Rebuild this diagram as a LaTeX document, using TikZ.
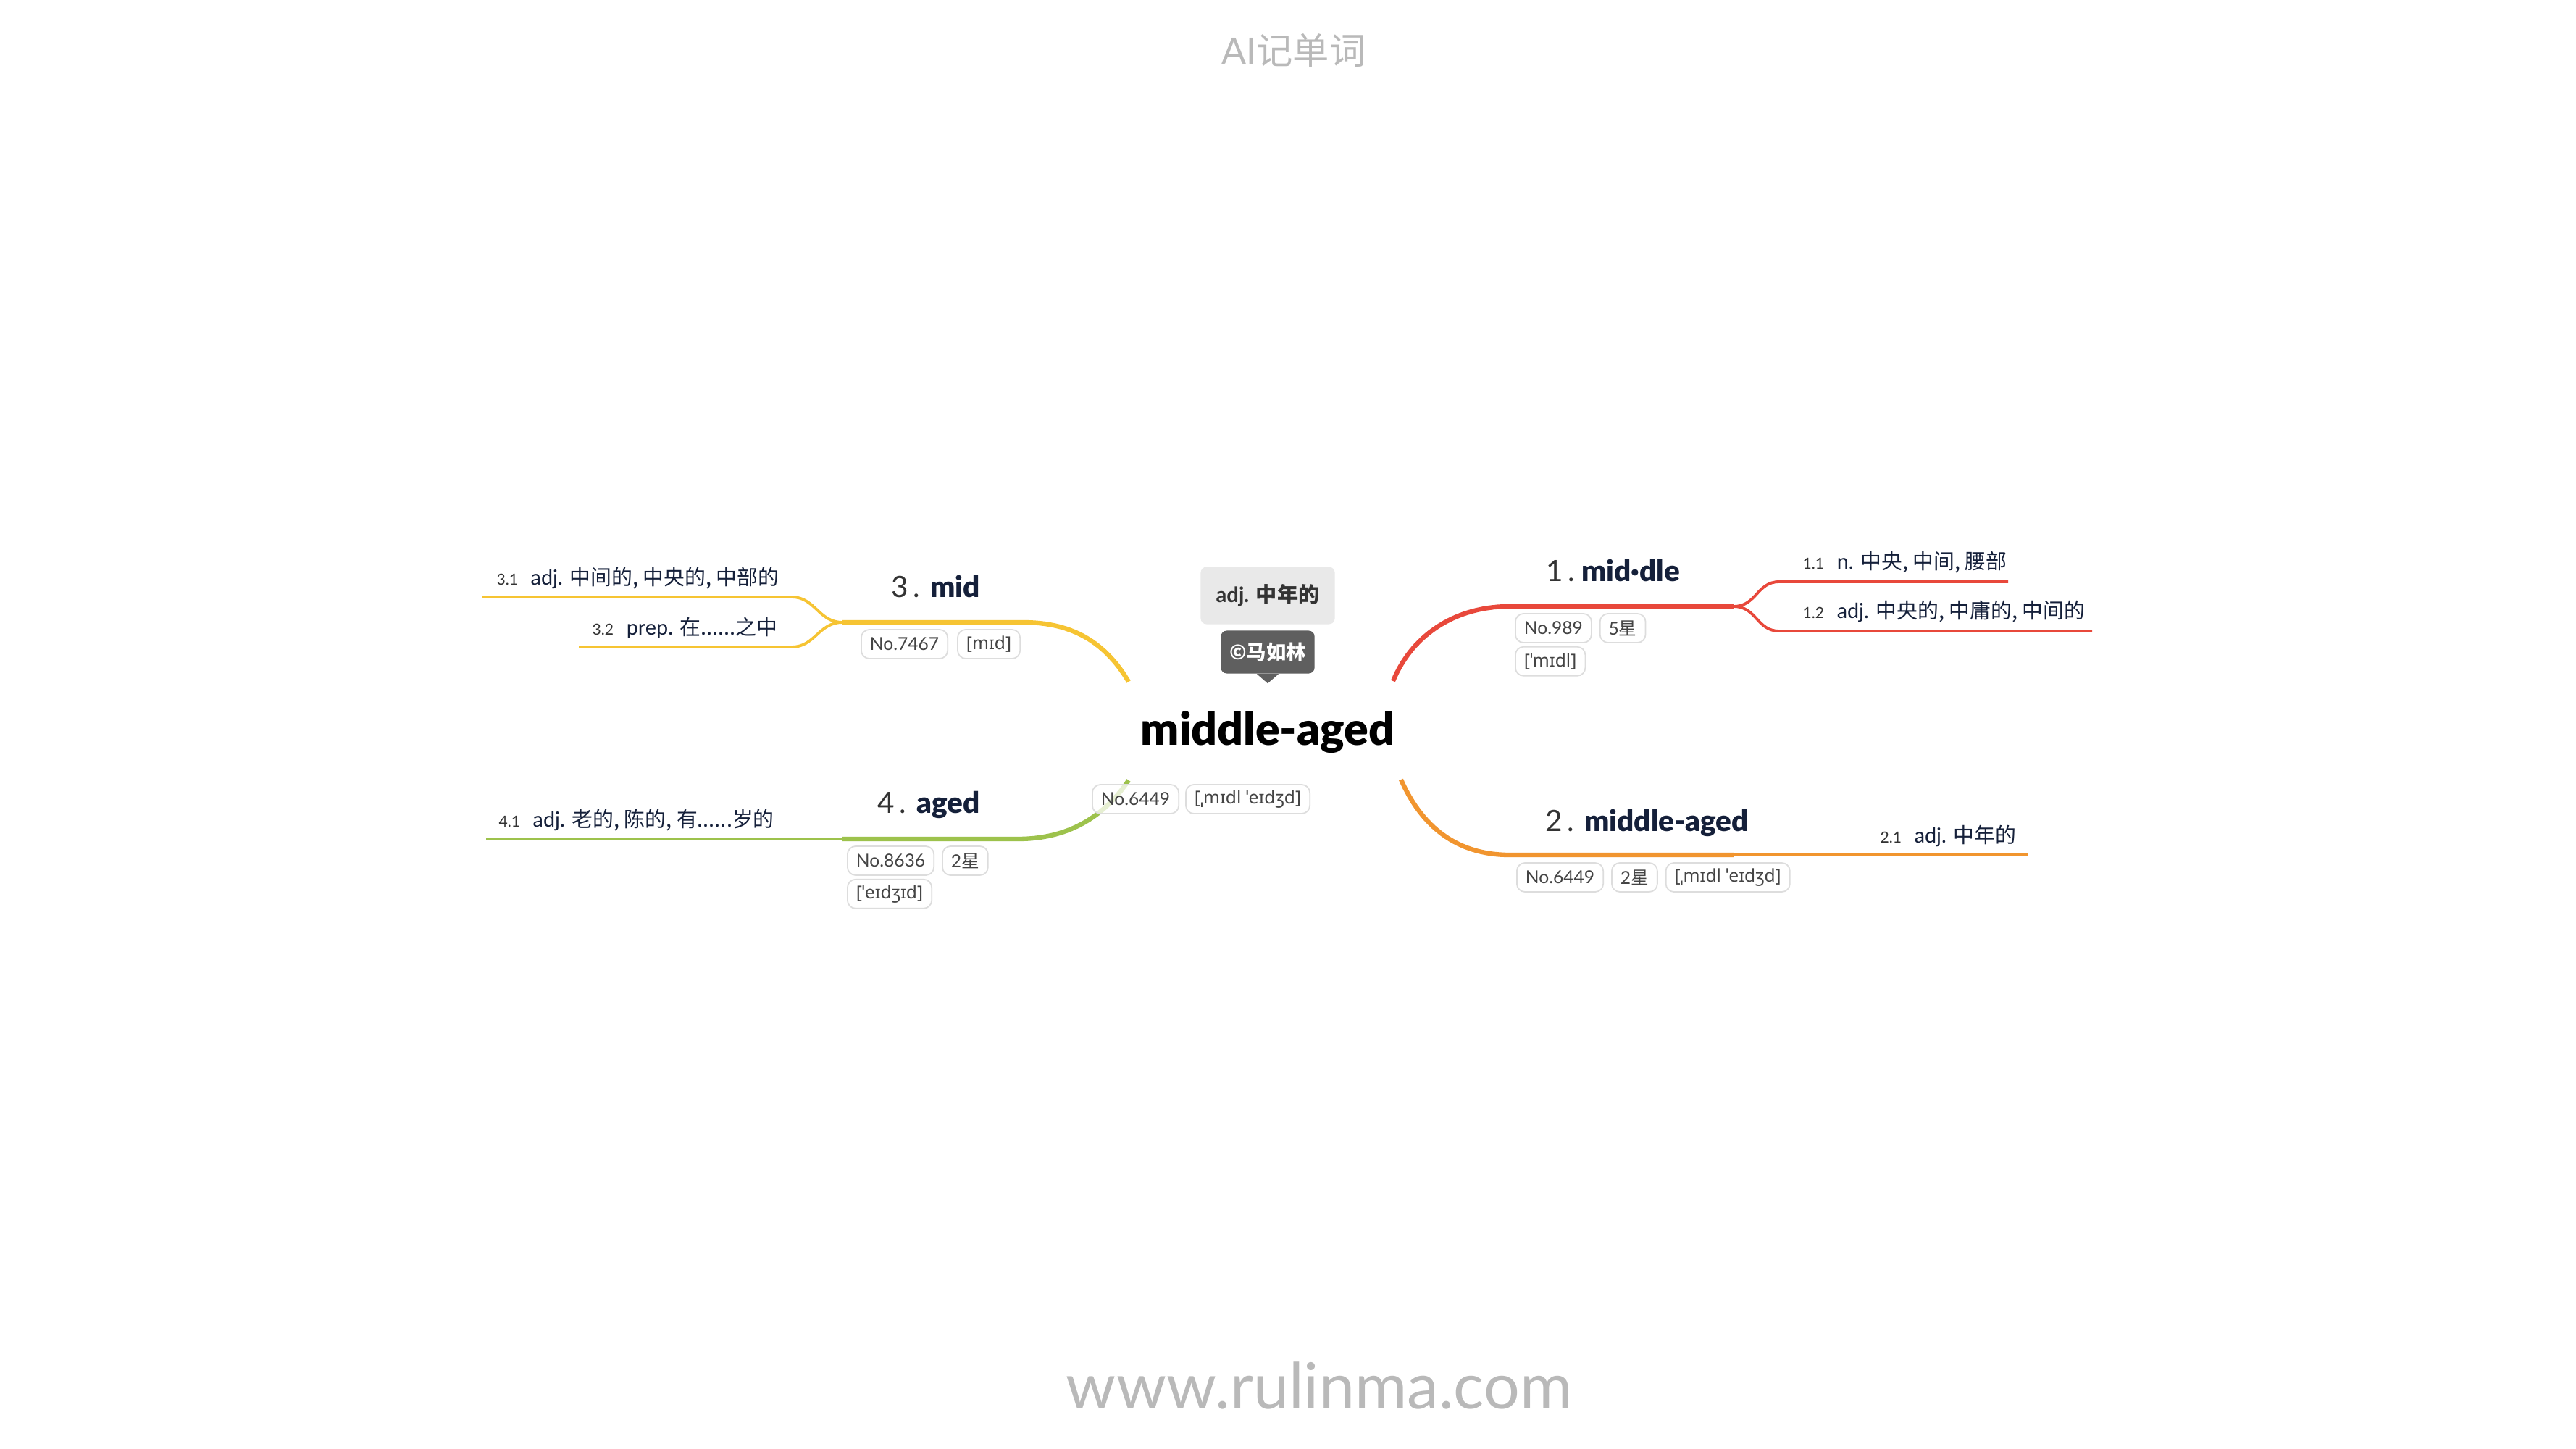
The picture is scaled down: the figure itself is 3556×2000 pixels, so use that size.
\documentclass[tikz,border=0pt]{standalone}
\usepackage{fontspec}
\setmainfont{Lato}
\newfontfamily\heavy{Lato Black}
\newfontfamily\cjk{Noto Sans CJK SC}
\newfontfamily\ipa{Noto Sans}
\usetikzlibrary{positioning}

\definecolor{redbr}{HTML}{E8483B}
\definecolor{orangebr}{HTML}{F1952F}
\definecolor{yellowbr}{HTML}{F6C433}
\definecolor{greenbr}{HTML}{9DC24C}
\definecolor{navy}{HTML}{15203A}
\definecolor{numgray}{HTML}{333333}
\definecolor{tagline}{HTML}{DDDDDD}
\definecolor{tagtext}{HTML}{444444}
\definecolor{boxgray}{HTML}{E9E9E9}
\definecolor{callgray}{HTML}{5F5F5F}
\definecolor{faint}{HTML}{B9B9B9}

\newcommand{\zh}[1]{{\cjk #1}}
\newcommand{\sensenum}[1]{{\color{numgray}\fontsize{6}{7}\selectfont #1}\hspace{5pt}}
\newcommand{\bnum}[1]{{\color{numgray}#1\,.}\hspace{4pt}}

\tikzset{
  branch/.style={line width=1.8pt},
  twig/.style={line width=1.1pt},
  tag/.style={draw=tagline, line width=0.5pt, rounded corners=3.2pt, fill=white,
    fill opacity=0.75, text opacity=1, text=tagtext, font=\fontsize{7}{8}\selectfont,
    minimum height=0.4cm, inner xsep=0.12cm, inner ysep=0pt},
  blabel/.style={anchor=base west, inner sep=0pt, text=navy, font=\fontsize{11.5}{13}\selectfont},
  sense/.style={anchor=base west, inner sep=0pt, text=navy, font=\fontsize{8.2}{10}\selectfont},
}

\begin{document}
\begin{tikzpicture}[x=0.01cm, y=-0.01cm]
  \useasboundingbox (0,0) rectangle (3556,2000);
  \fill[white] (0,0) rectangle (3556,2000);

  % header and footer
  \node[anchor=base, text=faint, font=\fontsize{14.3}{16}\selectfont] (head) at (1786,89) {AI\zh{记单词}};
  \node[anchor=base, text=faint, font=\fontsize{25}{28}\selectfont] (site) at (1821,1944) {www.rulinma.com};

  % root word
  \node[anchor=base, inner sep=0pt, font=\heavy\fontsize{17.8}{22}\selectfont] (root) at (1750,1028) {middle-aged};
  \node[fill=boxgray, rounded corners=0.08cm, minimum width=1.85cm, minimum height=0.79cm,
    text=black!80, font=\bfseries\fontsize{8.3}{10}\selectfont] (gloss) at (1750,822) {adj. \zh{中年的}};
  \node[fill=callgray, rounded corners=0.08cm, minimum width=1.29cm, minimum height=0.59cm,
    text=white, font=\bfseries\fontsize{7.8}{9}\selectfont] (copy) at (1750,900) {\zh{©马如林}};
  \fill[callgray] ([xshift=-0.15cm]copy.south) -- ([yshift=-0.13cm]copy.south) -- ([xshift=0.15cm]copy.south) -- cycle;

  % branch points
  \coordinate (r0) at (1923,940);  \coordinate (r1) at (2084,837);  \coordinate (rf) at (2393,837);
  \coordinate (ra) at (2456,803);  \coordinate (rae) at (2772,803);
  \coordinate (rb) at (2456,871);  \coordinate (rbe) at (2888,871);
  \coordinate (o0) at (1934,1076); \coordinate (o1) at (2084,1180); \coordinate (of) at (2393,1180);
  \coordinate (oe) at (2799,1180);
  \coordinate (y0) at (1558,941);  \coordinate (y1) at (1412,859);  \coordinate (yf) at (1163,859);
  \coordinate (ya) at (1093,824);  \coordinate (yae) at (666,824);
  \coordinate (yb) at (1093,893);  \coordinate (ybe) at (799,893);
  \coordinate (g0) at (1558,1077); \coordinate (g1) at (1405,1158); \coordinate (gf) at (1163,1158);
  \coordinate (ge) at (671,1158);

  % 1. mid-dle
  \draw[branch, redbr] (r0) .. controls (1950,875) and (2010,837) .. (r1) -- (rf);
  \draw[twig, redbr] (rf) .. controls (2425,837) and (2425,803) .. (ra) -- (rae);
  \draw[twig, redbr] (rf) .. controls (2425,837) and (2425,871) .. (rb) -- (rbe);
  % 2. middle-aged
  \draw[branch, orangebr] (o0) .. controls (1962,1140) and (2010,1180) .. (o1) -- (of);
  \draw[twig, orangebr] (of) -- (oe);
  % 3. mid
  \draw[branch, yellowbr] (y0) .. controls (1522,880) and (1472,859) .. (y1) -- (yf);
  \draw[twig, yellowbr] (yf) .. controls (1130,859) and (1125,824) .. (ya) -- (yae);
  \draw[twig, yellowbr] (yf) .. controls (1130,859) and (1125,893) .. (yb) -- (ybe);
  % 4. aged
  \draw[branch, greenbr] (g0) .. controls (1522,1130) and (1472,1158) .. (g1) -- (gf);
  \draw[twig, greenbr] (gf) -- (ge);

  % branch labels
  \node[blabel] (b1) at (2134,802) {{\color{numgray}1\,.}\hspace{2.5pt}{\heavy mid·dle}};
  \node[blabel] (b2) at (2133,1147) {\bnum{2}{\heavy middle-aged}};
  \node[blabel] (b3) at (1230,824) {\bnum{3}{\heavy mid}};
  \node[blabel] (b4) at (1211,1122) {\bnum{4}{\heavy aged}};

  % senses
  \node[sense] (s11) at (2488,785) {\sensenum{1.1}n. \zh{中央, 中间, 腰部}};
  \node[sense] (s12) at (2488,853) {\sensenum{1.2}adj. \zh{中央的, 中庸的, 中间的}};
  \node[sense] (s21) at (2595,1163) {\sensenum{2.1}adj. \zh{中年的}};
  \node[sense] (s31) at (685,807) {\sensenum{3.1}adj. \zh{中间的, 中央的, 中部的}};
  \node[sense] (s32) at (817,876) {\sensenum{3.2}prep. \zh{在......之中}};
  \node[sense] (s41) at (688,1141) {\sensenum{4.1}adj. \zh{老的, 陈的, 有......岁的}};

  % tags
  \node[tag, anchor=west] (t0no) at (1507,1103) {No.6449};
  \node[tag, right=0.08cm of t0no] (t0ipa) {\ipa [ˌmɪdl ˈeɪdʒd]};

  \node[tag, anchor=west] (t1no) at (2091,867) {No.989};
  \node[tag, right=0.1cm of t1no] (t1star) {5\zh{星}\hspace{3.5pt}};
  \node[tag, below=0.04cm of t1no.south west, anchor=north west] (t1ipa) {\ipa [ˈmɪdl]};

  \node[tag, anchor=west] (t2no) at (2093,1211) {No.6449};
  \node[tag, right=0.1cm of t2no] (t2star) {2\zh{星}\hspace{3.5pt}};
  \node[tag, right=0.1cm of t2star] (t2ipa) {\ipa [ˌmɪdl ˈeɪdʒd]};

  \node[tag, anchor=west] (t3no) at (1188,889) {No.7467};
  \node[tag, right=0.12cm of t3no] (t3ipa) {\ipa [mɪd]};

  \node[tag, anchor=west] (t4no) at (1169,1188) {No.8636};
  \node[tag, right=0.1cm of t4no] (t4star) {2\zh{星}\hspace{3.5pt}};
  \node[tag, below=0.04cm of t4no.south west, anchor=north west] (t4ipa) {\ipa [ˈeɪdʒɪd]};
\end{tikzpicture}
\end{document}
